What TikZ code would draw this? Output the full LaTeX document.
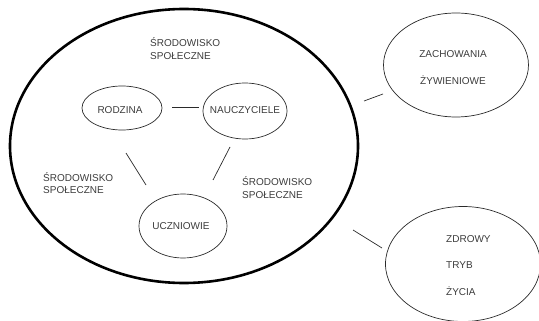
\documentclass[tikz,border=0pt]{standalone}
\usepackage{fontspec}
\setmainfont{Liberation Sans}
\usetikzlibrary{shapes.geometric}
\definecolor{txt}{HTML}{3C3C3C}
\definecolor{edge}{HTML}{2A2A2A}
\tikzset{
  small/.style={draw=edge, line width=0.7pt, ellipse, inner sep=0pt, text=txt, font=\fontsize{10}{12}\selectfont},
  big/.style={draw=black, line width=2.6pt, ellipse, inner sep=0pt},
  lbl/.style={text=txt, align=left, anchor=west, inner sep=0pt, font=\fontsize{10}{12.5}\selectfont},
  word/.style={text=txt, inner sep=0pt, font=\fontsize{10}{12}\selectfont},
  conn/.style={draw=edge, line width=0.7pt}
}
\begin{document}
\begin{tikzpicture}[x=1pt,y=-1pt]
\useasboundingbox (0,0) rectangle (539,321);
% large environment ellipse
\node[big, minimum width=348pt, minimum height=274pt] (env) at (184,146) {};
% inner nodes
\node[small, minimum width=80pt, minimum height=44pt] (rodz) at (122,108) {};
\node[word] (rodzt) at (120,110) {RODZINA};
\node[small, minimum width=84pt, minimum height=56pt] (nauc) at (245,111) {};
\node[word] (nauct) at (245,110) {NAUCZYCIELE};
\node[small, minimum width=88pt, minimum height=64pt] (ucz) at (183,226) {};
\node[word] (uczt) at (181,226) {UCZNIOWIE};
% outer nodes
\node[small, minimum width=145pt, minimum height=104pt] (zach) at (456,65) {};
\node[small, minimum width=155pt, minimum height=115pt] (zdr) at (463,264) {};
% labels
\node[lbl] (l1) at (150,48.5) {ŚRODOWISKO\\SPOŁECZNE};
\node[lbl] (l2) at (43,183) {ŚRODOWISKO\\SPOŁECZNE};
\node[lbl] (l3) at (242,187.5) {ŚRODOWISKO\\SPOŁECZNE};
\node[text=txt, align=center, inner sep=0pt, font=\fontsize{10}{27}\selectfont] (t1) at (453,67.5) {ZACHOWANIA\\ŻYWIENIOWE};
\node[text=txt, align=left, anchor=west, inner sep=0pt, font=\fontsize{10}{26.5}\selectfont] (t2) at (446,265.5) {ZDROWY\\TRYB\\ŻYCIA};
% connector ends
\coordinate (rn1) at (172,107);
\coordinate (rn2) at (199,107);
\coordinate (ru1) at (126,153);
\coordinate (ru2) at (146,185);
\coordinate (nu1) at (230,147);
\coordinate (nu2) at (213,180);
\coordinate (ez1) at (364,101);
\coordinate (ez2) at (383,94);
\coordinate (ed1) at (353,230);
\coordinate (ed2) at (382,248);
\draw[conn] (rn1) -- (rn2);
\draw[conn] (ru1) -- (ru2);
\draw[conn] (nu1) -- (nu2);
\draw[conn] (ez1) -- (ez2);
\draw[conn] (ed1) -- (ed2);
\end{tikzpicture}
\end{document}
